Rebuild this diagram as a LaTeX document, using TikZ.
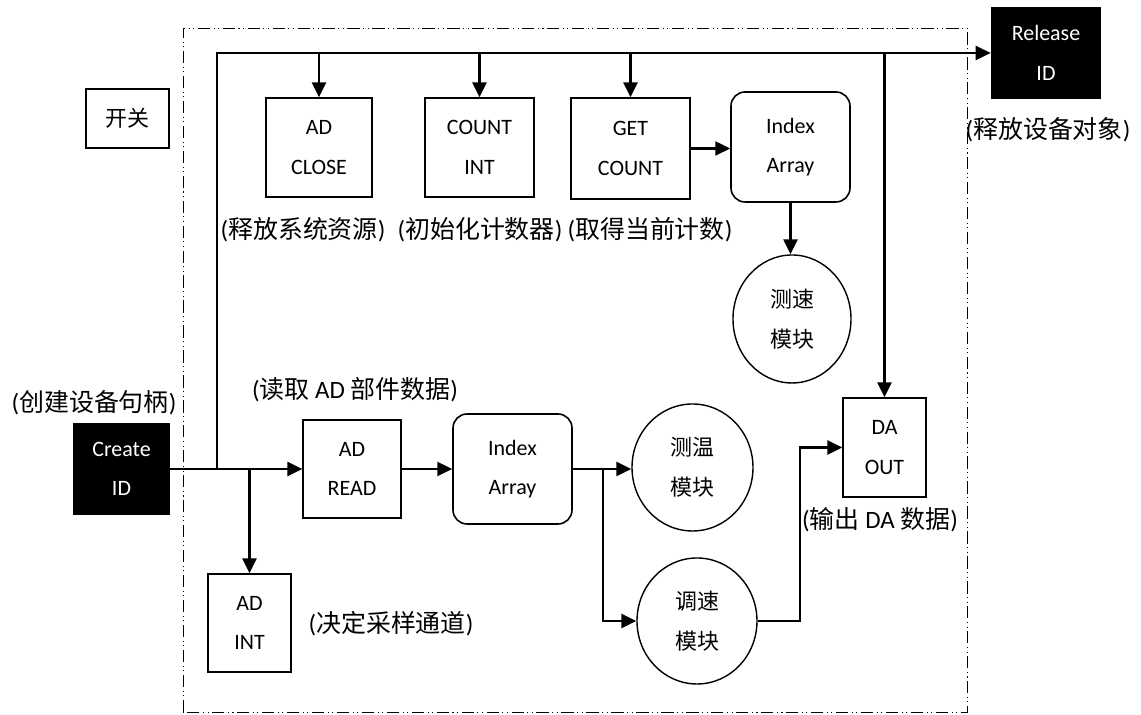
\documentclass[tikz,border=0pt]{standalone}
\usepackage{fontspec}
\setmainfont{Carlito}
\newfontfamily\cjk{Noto Sans CJK SC}
\usepackage{tikz}
\usetikzlibrary{positioning,calc,shapes.geometric,arrows.meta}
\newcommand{\zh}[1]{{\cjk #1}}

\begin{document}
\begin{tikzpicture}[
    every node/.style={font=\fontsize{12.5}{22.5}\selectfont, align=center, inner sep=0pt},
    blockbox/.style={rectangle, draw, line width=0.75pt},
    darkbox/.style={rectangle, fill=black, text=white},
    arraybox/.style={rectangle, rounded corners=8pt, draw, line width=0.9pt},
    modcirc/.style={ellipse, draw, line width=0.8pt},
    note/.style={font=\fontsize{14.2}{17}\selectfont},
    wire/.style={line width=1.2pt},
    flow/.style={line width=1.2pt, -{Triangle[length=8.5pt,width=8pt]}},
    frame/.style={line width=0.5pt, dash pattern=on 7pt off 2pt on 0.6pt off 2pt on 0.6pt off 2pt}
  ]
  \useasboundingbox (0,0) rectangle (22.82,14.30);
  \draw[frame] (3.66,0.06) rectangle (19.34,13.74);

  \node[blockbox, minimum width=1.66cm, minimum height=1.18cm] (switch) at (2.55,11.93) {\zh{开关}};
  \node[blockbox, minimum width=2.12cm, minimum height=1.98cm] (adclose) at (6.38,11.35) {AD\\CLOSE};
  \node[blockbox, minimum width=2.18cm, minimum height=1.98cm] (countint) at (9.59,11.35) {COUNT\\INT};
  \node[blockbox, minimum width=2.38cm, minimum height=2.02cm] (getcount) at (12.61,11.33) {GET\\COUNT};
  \node[arraybox, minimum width=2.38cm, minimum height=2.2cm] (idxtop) at (15.81,11.36) {Index\\Array};
  \node[modcirc, minimum width=2.36cm, minimum height=2.56cm] (speed) at (15.84,7.92) {\zh{测速}\\\zh{模块}};
  \node[darkbox, minimum width=2.2cm, minimum height=1.84cm] (release) at (20.92,13.24) {Release\\ID};
  \node[darkbox, minimum width=1.94cm, minimum height=1.84cm] (create) at (2.43,4.92) {Create\\ID};
  \node[blockbox, minimum width=1.96cm, minimum height=1.96cm] (adread) at (7.04,4.92) {AD\\READ};
  \node[arraybox, minimum width=2.38cm, minimum height=2.2cm] (idxbot) at (10.25,4.92) {Index\\Array};
  \node[modcirc, minimum width=2.42cm, minimum height=2.54cm] (temp) at (13.85,4.95) {\zh{测温}\\\zh{模块}};
  \node[modcirc, minimum width=2.4cm, minimum height=2.52cm] (tune) at (13.94,1.88) {\zh{调速}\\\zh{模块}};
  \node[blockbox, minimum width=1.66cm, minimum height=1.96cm] (adint) at (4.99,1.84) {AD\\INT};
  \node[blockbox, minimum width=1.66cm, minimum height=1.98cm] (daout) at (17.69,5.35) {DA\\OUT};

  \node[note] (noteclose) at (6.06,9.70) {(\zh{释放系统资源})};
  \node[note] (notecount) at (9.60,9.70) {(\zh{初始化计数器})};
  \node[note] (noteget) at (13.00,9.70) {(\zh{取得当前计数})};
  \node[note] (noterelease) at (20.96,11.70) {(\zh{释放设备对象})};
  \node[note] (notecreate) at (1.88,6.24) {(\zh{创建设备句柄})};
  \node[note] (noteread) at (7.10,6.50) {(\zh{读取} AD \zh{部件数据})};
  \node[note] (noteint) at (7.82,1.82) {(\zh{决定采样通道})};
  \node[note] (noteout) at (17.60,3.90) {(\zh{输出} DA \zh{数据})};

  \coordinate (tap) at (4.34,4.92);
  \coordinate (split) at (12.06,4.92);
  \coordinate (bend) at (16.00,1.88);

  \draw[flow] (create.east) -- (adread.west);
  \draw[flow] (tap) |- (release.west);
  \draw[flow] (adclose.north |- release.west) -- (adclose.north);
  \draw[flow] (countint.north |- release.west) -- (countint.north);
  \draw[flow] (getcount.north |- release.west) -- (getcount.north);
  \draw[flow] (daout.north |- release.west) -- (daout.north);
  \draw[flow] (adint.north |- create.east) -- (adint.north);
  \draw[flow] (getcount.east) -- (getcount.east -| idxtop.west);
  \draw[flow] (idxtop.south) -- (idxtop.south |- speed.north);
  \draw[flow] (adread.east) -- (idxbot.west);
  \draw[wire] (idxbot.east) -- (split);
  \draw[flow] (split) -- (split -| temp.west);
  \draw[flow] (split) |- (tune.west);
  \draw[flow] (tune.east) -- (bend) |- (daout.west);
\end{tikzpicture}
\end{document}
